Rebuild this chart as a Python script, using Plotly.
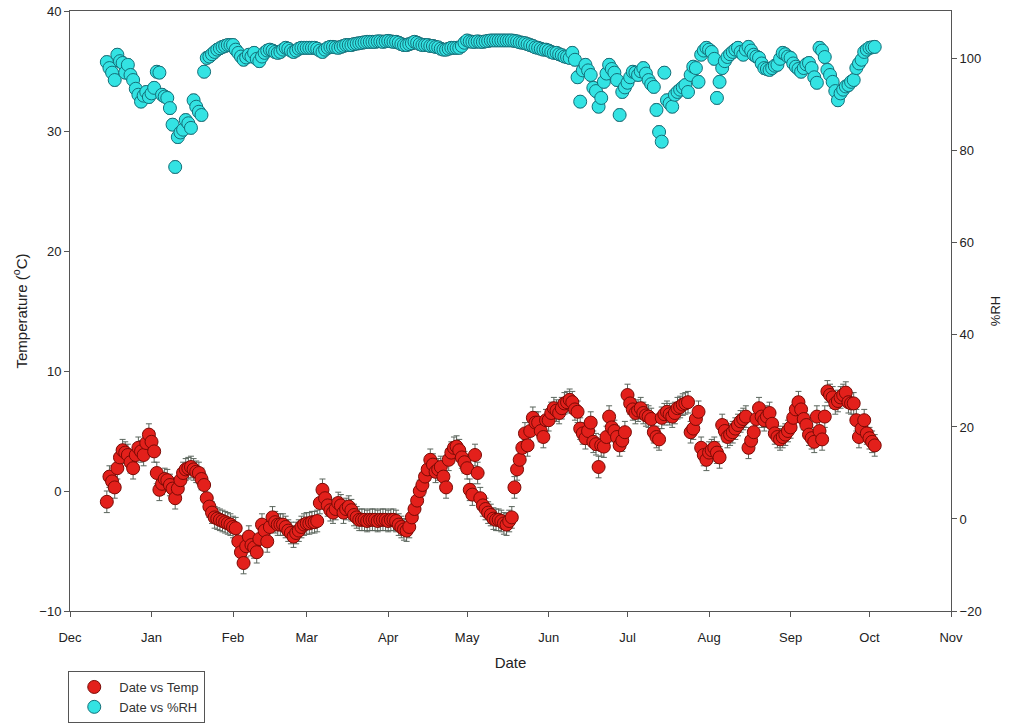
import pandas as pd
import plotly.graph_objects as go

# Daily mean logger readings, starting 15 Dec 2010
start_date = "2010-12-15"

temp_c = [
    -0.9, 1.2, 0.8, 0.3, 1.9, 2.8, 3.4, 3.2, 3.0, 2.4,
    1.9, 3.0, 3.6, 3.3, 3.0, 4.0, 4.7, 4.1, 3.3, 1.5,
    0.1, 0.6, 1.0, 0.9, 0.5, 0.2, -0.6, 0.2, 0.9, 1.5,
    1.8, 1.9, 2.0, 1.8, 1.6, 1.5, 1.0, 0.5, -0.6, -1.3,
    -1.8, -2.2, -2.3, -2.4, -2.5, -2.6, -2.7, -2.8, -3.0, -3.1,
    -4.2, -5.1, -6.0, -4.6, -3.8, -4.5, -4.7, -5.1, -4.0, -2.8,
    -3.3, -4.2, -3.0, -2.2, -2.6, -2.8, -2.8, -2.8, -3.0, -3.3,
    -3.5, -3.8, -3.5, -3.3, -3.0, -2.8, -2.7, -2.7, -2.6, -2.6,
    -2.5, -1.0, 0.1, -0.6, -1.2, -1.6, -1.8, -1.5, -1.0, -1.2,
    -1.8, -1.5, -1.3, -1.6, -2.0, -2.2, -2.4, -2.4, -2.4, -2.5,
    -2.4, -2.4, -2.4, -2.5, -2.4, -2.4, -2.4, -2.5, -2.4, -2.4,
    -2.5, -2.8, -3.0, -3.2, -3.3, -3.0, -2.2, -1.5, -0.8, 0.0,
    0.5, 1.2, 1.8, 2.6, 2.2, 1.6, 1.8, 2.0, 1.2, 0.3,
    2.6, 3.2, 3.6, 3.7, 3.4, 2.8, 2.4, 1.9, 0.1, -0.3,
    3.0, 1.5, -0.6, -1.2, -1.5, -1.8, -2.0, -2.3, -2.4, -2.4,
    -2.5, -2.7, -2.8, -2.5, -2.2, 0.3, 1.8, 2.6, 3.6, 4.8,
    3.8, 5.0, 6.1, 5.7, 5.7, 5.0, 4.5, 5.9, 5.9, 6.5,
    6.9, 6.7, 6.5, 6.9, 7.3, 7.4, 7.6, 7.4, 6.8, 6.6,
    5.2, 4.8, 4.4, 5.0, 5.7, 4.1, 3.9, 2.0, 3.8, 3.7,
    4.5, 6.2, 5.3, 5.0, 4.5, 3.8, 4.2, 4.9, 8.0, 7.3,
    6.8, 6.5, 6.7, 6.9, 6.5, 6.3, 6.2, 6.0, 4.9, 4.5,
    4.3, 6.1, 6.4, 6.6, 6.4, 6.2, 6.5, 6.9, 7.0, 7.2,
    7.3, 7.4, 4.9, 5.2, 6.0, 6.6, 3.6, 3.0, 2.6, 3.2,
    3.4, 3.6, 3.2, 2.8, 5.5, 5.0, 4.5, 4.7, 4.9, 5.2,
    5.5, 5.8, 6.0, 6.2, 3.6, 4.2, 4.9, 6.0, 6.9, 6.2,
    5.9, 6.2, 6.5, 5.6, 4.8, 4.5, 4.3, 4.5, 4.7, 5.0,
    5.3, 6.1, 6.8, 7.4, 6.8, 6.0, 5.5, 4.7, 4.4, 4.1,
    6.2, 5.0, 4.3, 6.2, 8.3, 8.0, 7.8, 7.3, 7.5, 7.8,
    8.0, 8.2, 7.4, 7.3, 7.3, 5.9, 4.5, 5.2, 5.9, 4.8,
    4.4, 4.1, 3.8,
]

rh_pct = [
    99.3, 98.0, 97.0, 95.4, 100.9, 99.5, 99.1, 97.0, 98.7, 96.5,
    95.4, 93.5, 92.2, 90.7, 92.0, 92.8, 91.7, 92.5, 93.7, 97.2,
    97.0, 92.2, 91.8, 91.5, 89.3, 85.7, 76.5, 83.0, 84.0, 84.6,
    86.7, 86.0, 85.0, 91.0, 89.6, 88.5, 87.8, 97.2, 100.2, 100.5,
    101.0, 101.5, 102.0, 102.3, 102.6, 102.8, 103.0, 103.0, 103.0, 102.0,
    101.3, 100.5, 99.8, 100.3, 100.9, 100.5, 101.3, 100.0, 99.5, 100.5,
    101.3, 101.8, 102.0, 101.8, 101.5, 101.3, 101.5, 102.0, 102.4, 102.2,
    101.8, 101.5, 101.8, 102.2, 102.4, 102.4, 102.4, 102.4, 102.4, 102.4,
    102.2, 101.8, 101.5, 102.0, 102.4, 102.6, 102.6, 102.5, 102.4, 102.6,
    102.8, 103.0, 103.0, 103.0, 103.2, 103.3, 103.4, 103.5, 103.6, 103.7,
    103.7, 103.7, 103.7, 103.8, 103.8, 103.7, 103.8, 103.9, 103.8, 103.7,
    103.7, 103.5, 103.2, 103.0, 103.0, 103.2, 103.4, 103.7, 103.5, 103.2,
    103.0, 103.0, 103.0, 102.8, 102.8, 102.6, 102.5, 102.2, 102.0, 102.0,
    102.2, 102.4, 102.4, 102.4, 102.4, 102.8, 103.5, 104.0, 103.8, 103.7,
    103.7, 103.8, 103.7, 103.7, 103.8, 103.9, 104.0, 104.0, 104.0, 104.0,
    104.0, 104.0, 104.0, 104.0, 104.0, 103.9, 103.8, 103.6, 103.5, 103.4,
    103.2, 103.0, 102.8, 102.5, 102.4, 102.2, 102.0, 102.0, 101.8, 101.5,
    101.3, 101.3, 101.0, 100.8, 100.5, 100.4, 100.2, 101.3, 99.8, 96.0,
    90.7, 97.5, 98.7, 97.5, 96.5, 93.7, 93.0, 89.6, 91.5, 95.0,
    96.8, 98.7, 97.8, 97.0, 95.4, 87.8, 92.8, 93.8, 94.8, 96.0,
    97.2, 97.0, 96.5, 97.3, 98.0, 96.8, 95.4, 94.5, 93.9, 88.9,
    84.1, 82.0, 97.0, 91.0, 90.3, 89.6, 92.2, 92.8, 93.3, 93.8,
    94.3, 92.8, 96.5, 98.3, 98.0, 95.0, 100.9, 101.8, 102.4, 102.0,
    101.5, 100.0, 91.5, 95.0, 98.0, 99.5, 100.4, 101.0, 101.5, 102.0,
    102.4, 101.5, 100.9, 102.0, 102.6, 101.8, 100.9, 100.5, 100.2, 99.0,
    98.0, 97.8, 97.6, 98.0, 98.5, 98.7, 100.0, 101.3, 101.0, 100.5,
    100.2, 99.0, 98.3, 97.8, 97.2, 98.0, 98.8, 99.1, 98.0, 96.0,
    94.8, 102.4, 101.8, 100.4, 97.6, 96.5, 95.0, 93.0, 91.0, 92.5,
    93.3, 94.0, 94.3, 95.0, 95.4, 98.0, 99.0, 99.8, 101.5, 102.0,
    102.4, 102.5, 102.6,
]

# Typical standard deviation of the daily readings
temp_sd = 0.9
rh_sd = 1.3

temp_dates = pd.date_range(start_date, periods=len(temp_c), freq="D")
rh_dates = pd.date_range(start_date, periods=len(rh_pct), freq="D")

AXIS_FONT = dict(family="Liberation Sans, Arial, sans-serif", size=13, color="#222222")
LINE_COLOR = "#555555"

fig = go.Figure()

fig.add_trace(go.Scatter(
    x=temp_dates, y=temp_c, mode="markers", name="Date vs Temp",
    marker=dict(size=13, color="#e3201b", line=dict(color="#7a0a05", width=1)),
    error_y=dict(type="constant", value=temp_sd, color="#5a655c", thickness=1, width=3),
))

fig.add_trace(go.Scatter(
    x=rh_dates, y=rh_pct, mode="markers", name="Date vs %RH", yaxis="y2",
    marker=dict(size=13, color="#33e3e3", line=dict(color="#13707a", width=1)),
    error_y=dict(type="constant", value=rh_sd, color="#5a5555", thickness=1, width=3),
))

fig.update_layout(
    width=1019, height=727,
    margin=dict(l=70, r=68, t=11, b=116, autoexpand=False),
    paper_bgcolor="white", plot_bgcolor="white",
    font=AXIS_FONT,
    showlegend=True,
    legend=dict(
        x=-0.002, xanchor="left", y=-0.1, yanchor="top",
        bordercolor="#555555", borderwidth=1, bgcolor="white",
        font=dict(family="Liberation Sans, Arial, sans-serif", size=13, color="#333333"),
        tracegroupgap=0, itemwidth=40,
    ),
    xaxis=dict(
        range=["2010-12-01", "2011-11-01"],
        tick0="2010-12-01", dtick="M1", tickformat="%b",
        ticks="outside", ticklen=5, tickcolor=LINE_COLOR,
        ticklabelstandoff=9, automargin=False,
        showline=True, linecolor=LINE_COLOR, linewidth=1, mirror=True,
        showgrid=False, zeroline=False,
        title=dict(text="Date", font=dict(size=15, color="#222222"), standoff=13),
    ),
    yaxis=dict(
        range=[-10, 40], dtick=10, automargin=False,
        ticks="outside", ticklen=5, tickcolor=LINE_COLOR,
        showline=True, linecolor=LINE_COLOR, linewidth=1,
        showgrid=False, zeroline=False,
        title=dict(text="Temperature (<sup>o</sup>C)", font=dict(size=15, color="#222222"), standoff=8),
    ),
    yaxis2=dict(
        overlaying="y", side="right", automargin=False,
        range=[-20, 110.4], tickvals=[-20, 0, 20, 40, 60, 80, 100],
        ticks="outside", ticklen=5, tickcolor=LINE_COLOR,
        showline=True, linecolor=LINE_COLOR, linewidth=1,
        showgrid=False, zeroline=False,
        title=dict(text="%RH", font=dict(size=13, color="#222222"), standoff=10),
    ),
)

fig.write_html("out.html")
